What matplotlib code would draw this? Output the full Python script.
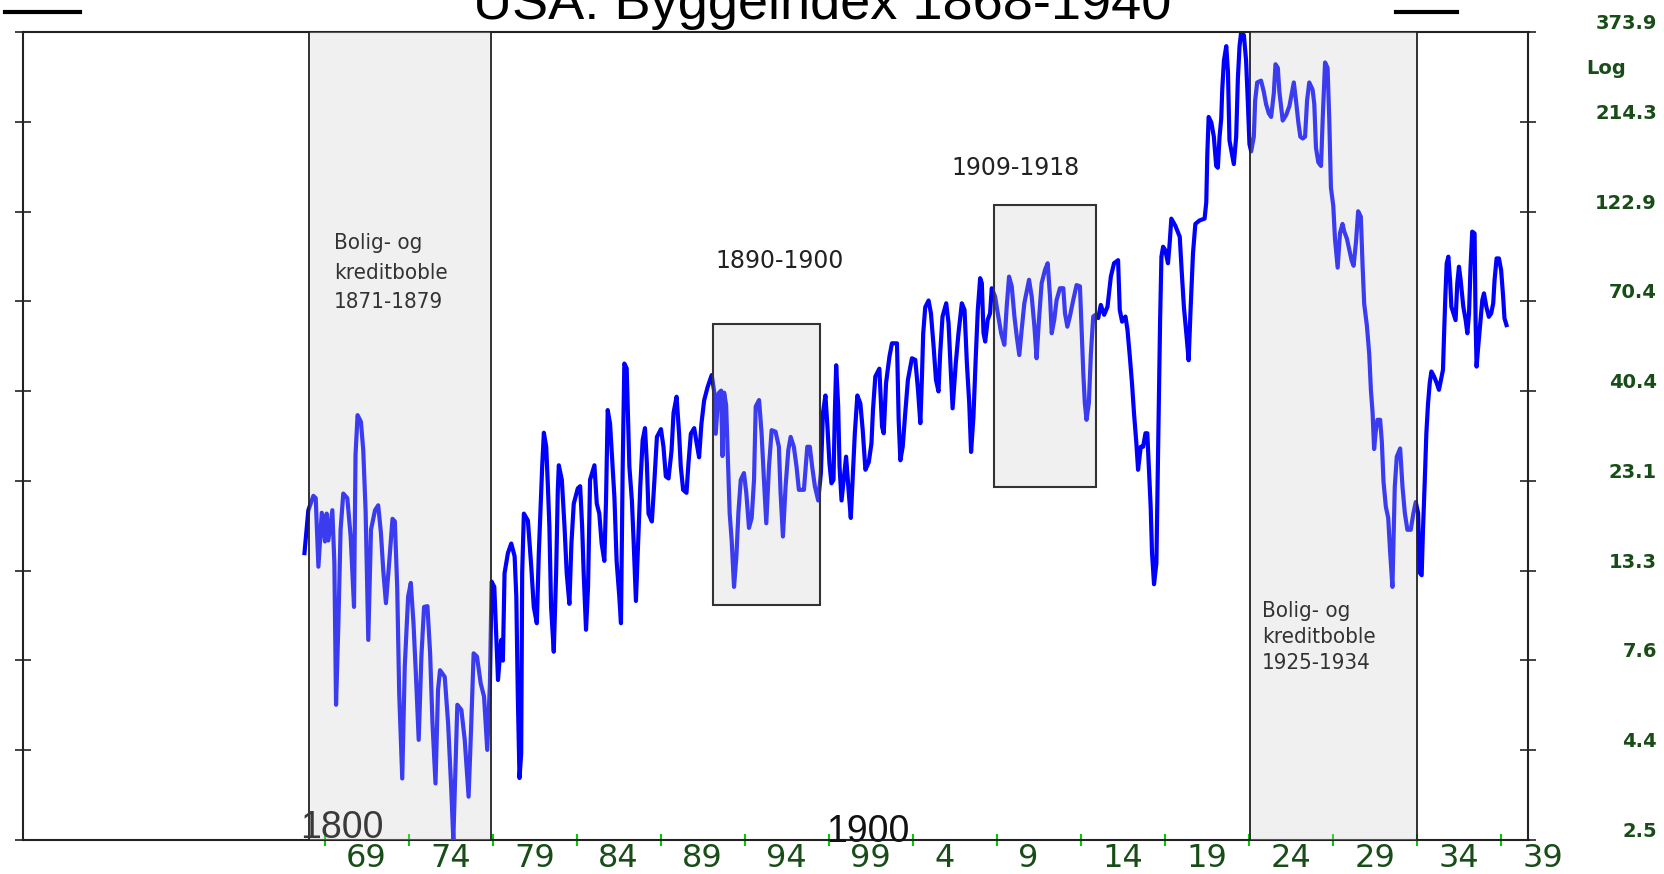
import matplotlib
matplotlib.use("Agg")
import matplotlib.pyplot as plt
from matplotlib import font_manager
from matplotlib.patches import Rectangle
from matplotlib.lines import Line2D
from matplotlib.transforms import blended_transform_factory, offset_copy
import numpy as np

# USA byggeindex (år, indeks)
years = [
    1868.80, 1869.03, 1869.33, 1869.47, 1869.63, 1869.83, 1870.02, 1870.12, 1870.22, 1870.46,
    1870.58, 1870.68, 1870.82, 1870.95, 1871.11, 1871.35, 1871.55, 1871.75, 1871.84, 1871.96,
    1872.16, 1872.30, 1872.44, 1872.60, 1872.76, 1873.00, 1873.19, 1873.35, 1873.49, 1873.65,
    1873.84, 1874.04, 1874.18, 1874.32, 1874.44, 1874.62, 1874.77, 1874.97, 1875.13, 1875.29,
    1875.43, 1875.60, 1875.76, 1875.92, 1876.12, 1876.28, 1876.42, 1876.60, 1876.75, 1876.87,
    1877.15, 1877.35, 1877.54, 1877.66, 1877.78, 1877.90, 1878.14, 1878.34, 1878.57, 1878.73,
    1878.87, 1879.07, 1879.29, 1879.49, 1879.68, 1879.84, 1879.94,
    1880.10, 1880.32, 1880.51, 1880.61, 1880.71, 1880.91, 1881.11, 1881.31, 1881.41, 1881.50,
    1881.60, 1881.70, 1881.76, 1881.86, 1882.10, 1882.30, 1882.45, 1882.63, 1882.75, 1882.85,
    1882.95, 1883.05, 1883.19, 1883.29, 1883.38, 1883.48, 1883.64, 1883.78, 1883.88, 1883.94,
    1884.12, 1884.28, 1884.41, 1884.57, 1884.69, 1884.83, 1885.07, 1885.21, 1885.33, 1885.42,
    1885.56, 1885.68, 1885.80, 1886.06, 1886.20, 1886.35, 1886.49, 1886.65, 1886.75, 1886.85,
    1886.99, 1887.15, 1887.25, 1887.38, 1887.54, 1887.64, 1887.74, 1887.84, 1887.98, 1888.14,
    1888.29, 1888.39, 1888.53, 1888.67, 1888.79, 1888.93, 1889.07, 1889.18, 1889.28, 1889.48,
    1889.62, 1889.78, 1890.02, 1890.17, 1890.31, 1890.47, 1890.65, 1890.77, 1890.95, 1891.10,
    1891.20, 1891.34, 1891.54, 1891.66, 1891.80, 1892.00, 1892.13, 1892.29, 1892.43, 1892.59,
    1892.79, 1893.04, 1893.18, 1893.28, 1893.44, 1893.60, 1893.68, 1893.78, 1893.90, 1894.00,
    1894.11, 1894.23, 1894.37,
    1894.51, 1894.63, 1894.77, 1894.96, 1895.10, 1895.26, 1895.42, 1895.56, 1895.66, 1895.86,
    1896.01, 1896.15, 1896.29, 1896.45, 1896.61, 1896.84, 1897.04, 1897.14, 1897.28, 1897.44,
    1897.60, 1897.74, 1897.93, 1898.09, 1898.23, 1898.53, 1898.73, 1898.88, 1899.02, 1899.18,
    1899.38, 1899.54, 1899.66, 1899.81, 1899.93, 1900.05, 1900.17, 1900.29, 1900.37, 1900.45,
    1900.57, 1900.65, 1900.77, 1900.90, 1901.04, 1901.20, 1901.32, 1901.44, 1901.56, 1901.71,
    1901.89, 1902.03, 1902.19, 1902.39, 1902.55, 1902.64, 1902.78, 1903.02, 1903.18, 1903.28,
    1903.42, 1903.62, 1903.77, 1904.07, 1904.17, 1904.27, 1904.41, 1904.56, 1904.72, 1904.96,
    1905.16, 1905.32, 1905.46, 1905.55, 1905.63, 1905.75, 1905.95, 1906.09, 1906.25, 1906.39,
    1906.54, 1906.64, 1906.78, 1907.00, 1907.14, 1907.24, 1907.38,
    1907.57, 1907.73, 1907.93, 1908.09, 1908.23, 1908.37, 1908.48, 1908.62, 1908.76, 1908.88,
    1909.02, 1909.12, 1909.22, 1909.32, 1909.47, 1909.61, 1909.71, 1909.91, 1910.07, 1910.27,
    1910.46, 1910.60, 1910.74, 1910.90, 1911.06, 1911.20, 1911.35, 1911.49, 1911.65, 1911.93,
    1912.09, 1912.25, 1912.38, 1912.52, 1912.68, 1912.88, 1913.04, 1913.18, 1913.28, 1913.43,
    1913.57, 1913.77, 1913.97, 1914.07, 1914.21, 1914.36, 1914.56, 1914.76, 1914.96, 1915.06,
    1915.16, 1915.25, 1915.35, 1915.49, 1915.61, 1915.75, 1915.89, 1916.05, 1916.20, 1916.40,
    1916.60, 1916.80, 1916.99, 1917.23, 1917.33, 1917.47, 1917.67, 1917.79, 1917.93, 1918.06,
    1918.18, 1918.32, 1918.42, 1918.58, 1918.72, 1918.86, 1918.97, 1919.07, 1919.17, 1919.25,
    1919.37, 1919.51, 1919.61, 1919.73, 1919.81, 1919.91, 1920.04, 1920.20, 1920.30,
    1920.40, 1920.64, 1920.90, 1921.03, 1921.15, 1921.29, 1921.43, 1921.55, 1921.69, 1921.83,
    1922.08, 1922.38, 1922.48, 1922.54, 1922.62, 1922.78, 1922.93, 1923.07, 1923.17, 1923.27,
    1923.37, 1923.43, 1923.53, 1923.67, 1923.77, 1923.86, 1924.00, 1924.12, 1924.26, 1924.36,
    1924.46, 1924.56, 1924.72, 1924.85, 1924.95, 1925.05, 1925.15, 1925.31, 1925.39, 1925.51,
    1925.74, 1925.90, 1926.04, 1926.20, 1926.34, 1926.50, 1926.60, 1926.74, 1926.83, 1927.03,
    1927.23, 1927.43, 1927.57, 1927.69, 1927.82, 1927.96, 1928.08, 1928.22, 1928.36, 1928.48,
    1928.61, 1928.81, 1928.91, 1929.01, 1929.15, 1929.31, 1929.41, 1929.55, 1929.70, 1929.80,
    1929.90, 1930.04, 1930.14, 1930.30, 1930.44, 1930.59, 1930.69, 1930.85, 1930.99, 1931.13,
    1931.25, 1931.39, 1931.52, 1931.68, 1931.78, 1931.88, 1932.04, 1932.18, 1932.28, 1932.38,
    1932.47, 1932.57, 1932.67, 1932.83, 1932.93, 1933.03, 1933.17, 1933.31, 1933.42, 1933.56,
    1933.70, 1933.82, 1934.02, 1934.16, 1934.30, 1934.45, 1934.65, 1934.81, 1934.95, 1935.09,
    1935.19, 1935.30, 1935.38, 1935.48, 1935.58, 1935.68, 1935.78, 1935.88, 1936.04, 1936.20,
    1936.33, 1936.47, 1936.57, 1936.63, 1936.71, 1936.79, 1936.89, 1936.99, 1937.07, 1937.19,
    1937.32, 1937.42, 1937.52, 1937.62, 1937.78, 1937.92, 1938.02, 1938.12, 1938.21, 1938.31,
    1938.45, 1938.51, 1938.57, 1938.65, 1938.77, 1938.91, 1939.01, 1939.15, 1939.30, 1939.44,
    1939.56, 1939.64, 1939.76, 1939.90, 1940.03, 1940.15, 1940.23, 1940.35,
]
index = [
    14.8, 19.3, 21.1, 20.8, 13.6, 19.0, 15.9, 18.9, 16.0, 19.3,
    13.9, 5.78, 9.58, 17.1, 21.4, 20.8, 16.4, 10.6, 27.2, 34.8,
    33.4, 28.0, 19.2, 8.64, 17.1, 19.3, 19.9, 16.8, 13.3, 10.85,
    13.9, 18.3, 18.0, 12.0, 6.21, 3.66, 7.32, 11.3, 12.3, 9.58,
    7.03, 4.65, 7.79, 10.6, 10.65, 7.95, 5.16, 3.55, 6.34, 7.16,
    6.87, 5.16, 3.41, 2.5, 3.78, 5.78, 5.6, 4.65, 3.27, 5.16,
    7.95, 7.79, 6.6, 6.08, 4.37, 6.6, 12.4,
    12.0, 6.74, 8.64, 7.6, 13.06, 14.8, 15.7, 14.5, 11.3, 6.1,
    3.67, 4.27, 13.1, 18.9, 18.1, 13.6, 10.6, 9.58, 14.8, 19.3,
    25.3, 31.2, 28.6, 22.4, 17.4, 10.6, 8.03, 13.06, 21.9, 25.5,
    23.3, 17.4, 13.06, 10.8, 15.7, 20.1, 22.1, 22.4, 17.4, 13.06,
    9.2, 12.0, 23.3, 25.5, 20.1, 18.9, 15.7, 14.1, 20.5, 35.9,
    33.0, 24.8, 20.9, 14.1, 11.3, 9.58, 24.8, 47.9, 46.5, 25.3,
    20.5, 16.05, 11.0, 16.05, 22.4, 29.8, 32.1, 25.9, 18.9, 18.0,
    22.8, 30.4, 31.9, 28.6, 23.8, 23.5, 27.9, 35.3, 39.0, 31.0,
    25.3, 21.9, 21.5, 25.9, 31.0, 32.1, 29.5, 26.8, 33.0, 38.1,
    41.3, 44.6, 40.5, 31.0, 39.8, 40.5, 27.0, 40.0, 37.0, 26.9,
    18.95, 16.0, 12.0,
    14.5, 19.0, 23.3, 24.3, 21.5, 17.3, 18.4, 23.3, 36.7, 38.2,
    31.1, 23.3, 17.8, 25.3, 31.7, 31.4, 28.6, 21.5, 16.4, 22.4,
    28.0, 30.4, 28.6, 25.3, 21.9, 21.9, 28.6, 28.6, 25.3, 22.4,
    20.5, 24.3, 35.2, 39.3, 32.4, 25.8, 22.8, 23.3, 35.2, 47.4,
    36.7, 25.3, 20.5, 23.3, 26.9, 21.5, 18.4, 23.8, 31.1, 39.3,
    37.4, 31.7, 24.8, 26.0, 29.2, 35.9, 44.2, 46.4, 32.4, 31.1,
    42.5, 50.0, 54.3, 54.3, 33.8, 26.3, 28.6, 35.2, 43.3, 49.5,
    49.0, 40.7, 33.1, 43.3, 57.7, 67.9, 70.8, 65.4, 53.2, 43.3,
    40.3, 51.0, 64.1, 69.6, 61.5, 49.0, 36.3,
    48.0, 57.8, 69.6, 66.8, 48.0, 37.5, 27.7, 34.4, 50.0, 66.8,
    81.3, 78.8, 57.8, 54.9, 62.8, 65.4, 76.4, 72.5, 65.4, 57.8,
    53.8, 68.1, 82.1, 77.3, 64.1, 56.6, 50.5, 59.0, 69.6, 80.5,
    72.5, 60.2, 49.5, 62.8, 78.8, 85.6, 89.2, 72.5, 57.8, 62.8,
    71.0, 76.4, 76.4, 65.4, 60.2, 64.1, 71.0, 77.9, 77.3, 59.0,
    45.1, 37.5, 33.8, 37.5, 50.7, 64.1, 64.8, 63.5, 68.9, 64.8,
    68.1, 82.1, 89.2, 90.9, 66.8, 62.1, 64.1, 59.0, 50.0, 42.3,
    35.1, 29.2, 24.8, 28.6, 28.6, 31.1, 31.1, 24.8, 19.7, 14.8,
    12.2, 13.9, 28.0, 62.1, 92.9, 98.8, 96.7, 89.2, 100.9,
    117.6, 112.5, 105.1, 83.0, 67.8, 57.9, 48.9, 67.8, 95.0, 113.8,
    116.3, 117.6, 130.2, 174.4, 220.9, 213.5, 195.4, 163.0, 161.2, 195.4,
    218.4, 261.4, 313.0, 342.5, 292.6, 190.9, 176.4, 164.9, 195.4, 279.7,
    342.5, 375.0, 366.4, 313.0, 244.6, 186.6, 178.4, 195.4, 244.6, 273.5,
    276.6, 258.6, 239.0, 225.9, 220.9, 255.7, 306.2, 299.3, 258.6, 216.0,
    223.3, 236.3, 255.7, 273.5, 244.6, 213.5, 195.4, 193.2, 195.4, 244.6,
    273.5, 261.4, 239.0, 182.4, 166.7, 163.0, 218.4, 309.6, 299.3, 218.4,
    142.4, 127.3, 103.9, 86.8, 107.5, 113.8, 108.7, 103.9, 97.2, 90.8,
    87.8, 101.6, 123.1, 119.0, 88.8, 69.3, 60.6, 50.8, 40.6, 35.3,
    28.2, 31.5, 33.8, 33.8, 29.5, 23.0, 19.7, 18.4, 15.0, 12.0,
    22.3, 26.9, 28.3, 22.3, 18.95, 17.1, 17.1, 18.95, 20.3, 18.95,
    13.1, 12.9, 17.1, 22.8, 31.1, 37.4, 42.4, 45.6, 44.2, 42.4,
    40.7, 43.8, 46.1, 56.6, 72.5, 89.1, 92.9, 80.4, 68.1, 65.4,
    62.7, 78.7, 87.3, 80.4, 68.1, 62.7, 57.8, 65.4, 87.3, 108.5,
    107.3, 62.7, 47.0, 52.1, 60.2, 71.0, 74.0, 68.1, 64.0, 65.4,
    69.6, 80.4, 91.9, 91.9, 85.5, 72.5, 63.4, 60.8,
]

# boble-perioder (grå bånd) og markerede kasser
bands = [(1869.07, 1879.88), (1925.07, 1935.05)]
boxes = [(1893.12, 1899.48, 10.7, 61.2), (1909.85, 1915.89, 22.3, 128.3)]

y_ticks = np.geomspace(2.5, 373.9, 10)
y_labels = ["2.5", "4.4", "7.6", "13.3", "23.1", "40.4", "70.4", "122.9", "214.3", "373.9"]
x_ticks = list(range(1870, 1941, 5))
x_labels = ["69", "74", "79", "84", "89", "94", "99", "4", "9", "14", "19", "24", "29", "34", "39"]

# smal skrift til boble-teksterne, hvis den findes
fonts = font_manager.fontManager.ttflist
if any(f.name == "Liberation Sans Narrow" for f in fonts):
    narrow = dict(family="Liberation Sans Narrow", fontsize=19)
elif any(f.name == "DejaVu Sans" and f.stretch == "condensed" for f in fonts):
    narrow = dict(family="DejaVu Sans", fontstretch="condensed", fontsize=16)
else:
    narrow = dict(family="DejaVu Sans", fontsize=15)

W, H = 1665, 874
fig = plt.figure(figsize=(W / 100, H / 100), dpi=100)
ax = fig.add_axes([23.4 / W, 34 / H, 1505.1 / W, 808 / H])

ax.plot(years, index, color="#0000ff", lw=3, zorder=2)

shade = (0.8, 0.8, 0.8, 0.294)
for a, b in bands:
    ax.axvspan(a, b, facecolor=shade, edgecolor="none", zorder=3)
    ax.axvline(a, color="#222222", lw=1.3, zorder=4)
    ax.axvline(b, color="#222222", lw=1.3, zorder=4)
for x0, x1, y0, y1 in boxes:
    ax.add_patch(Rectangle((x0, y0), x1 - x0, y1 - y0, facecolor=shade,
                           edgecolor="#333333", lw=1.5, zorder=3))

ax.set_yscale("log")
ax.set_xlim(1852.07, 1941.66)
ax.set_ylim(2.5, 373.9)
ax.yaxis.set_minor_locator(plt.NullLocator())
ax.xaxis.set_minor_locator(plt.NullLocator())
ax.set_yticks(y_ticks)
ax.set_xticks(x_ticks)
ax.tick_params(axis="y", which="both", direction="inout", length=11.5, width=1.2,
               color="#222222", left=True, right=True, labelleft=False, labelright=False)
ax.tick_params(axis="x", direction="inout", length=8, width=1.5, color="#00cc00",
               labelbottom=False)
for s in ax.spines.values():
    s.set_color("#222222")
    s.set_linewidth(1.5)

# årstal under aksen
xt = offset_copy(blended_transform_factory(ax.transData, ax.transAxes), fig=fig, y=-3, units="dots")
for t, lab in zip(x_ticks, x_labels):
    off = 2.5 if len(lab) == 2 else 1.9
    ax.text(t + off, 0, lab, transform=xt, ha="center", va="top", fontsize=23,
            family="DejaVu Sans", color="#184d18", clip_on=False)

# højre skala
yt = offset_copy(blended_transform_factory(fig.transFigure, ax.transData), fig=fig, y=8.5, units="dots")
for v, lab in zip(y_ticks, y_labels):
    fig.text(1657 / W, v, lab, transform=yt, ha="right", va="center", fontsize=14,
             family="DejaVu Sans", fontweight="bold", color="#184d18")
fig.text(1586 / W, 1 - 74 / H, "Log", ha="left", va="baseline", fontsize=14,
         family="DejaVu Sans", fontweight="bold", color="#184d18")

# titel og streger
fig.text(822 / W, 1 - 19 / H, "USA: Byggeindex 1868-1940", ha="center", va="baseline",
         fontsize=39, family="Liberation Sans", color="black")
fig.add_artist(Line2D([5 / W, 80 / W], [1 - 12 / H, 1 - 12 / H], color="black", lw=3))
fig.add_artist(Line2D([1396 / W, 1457 / W], [1 - 12 / H, 1 - 12 / H], color="black", lw=3))

# kommentarer
ax.text(1870.56, 107.6, "Bolig- og\nkreditboble\n1871-1879", ha="left", va="top",
        color="#333333", linespacing=1.6, zorder=5, **narrow)
ax.text(1925.80, 11.0, "Bolig- og\nkreditboble\n1925-1934", ha="left", va="top",
        color="#333333", linespacing=1.38, zorder=5, **narrow)
ax.text(1897.11, 90.4, "1890-1900", ha="center", va="center", fontsize=17,
        family="DejaVu Sans", color="#222222", zorder=5)
ax.text(1911.10, 161.0, "1909-1918", ha="center", va="center", fontsize=17,
        family="DejaVu Sans", color="#222222", zorder=5)
ax.text(1868.54, 2.53, "1800", ha="left", va="baseline", fontsize=27,
        family="Liberation Sans", color="#3a3a3a", zorder=5)
ax.text(1899.85, 2.47, "1900", ha="left", va="baseline", fontsize=27,
        family="Liberation Sans", color="#111111", zorder=5, clip_on=False)

fig.savefig("out.png", dpi=100)
